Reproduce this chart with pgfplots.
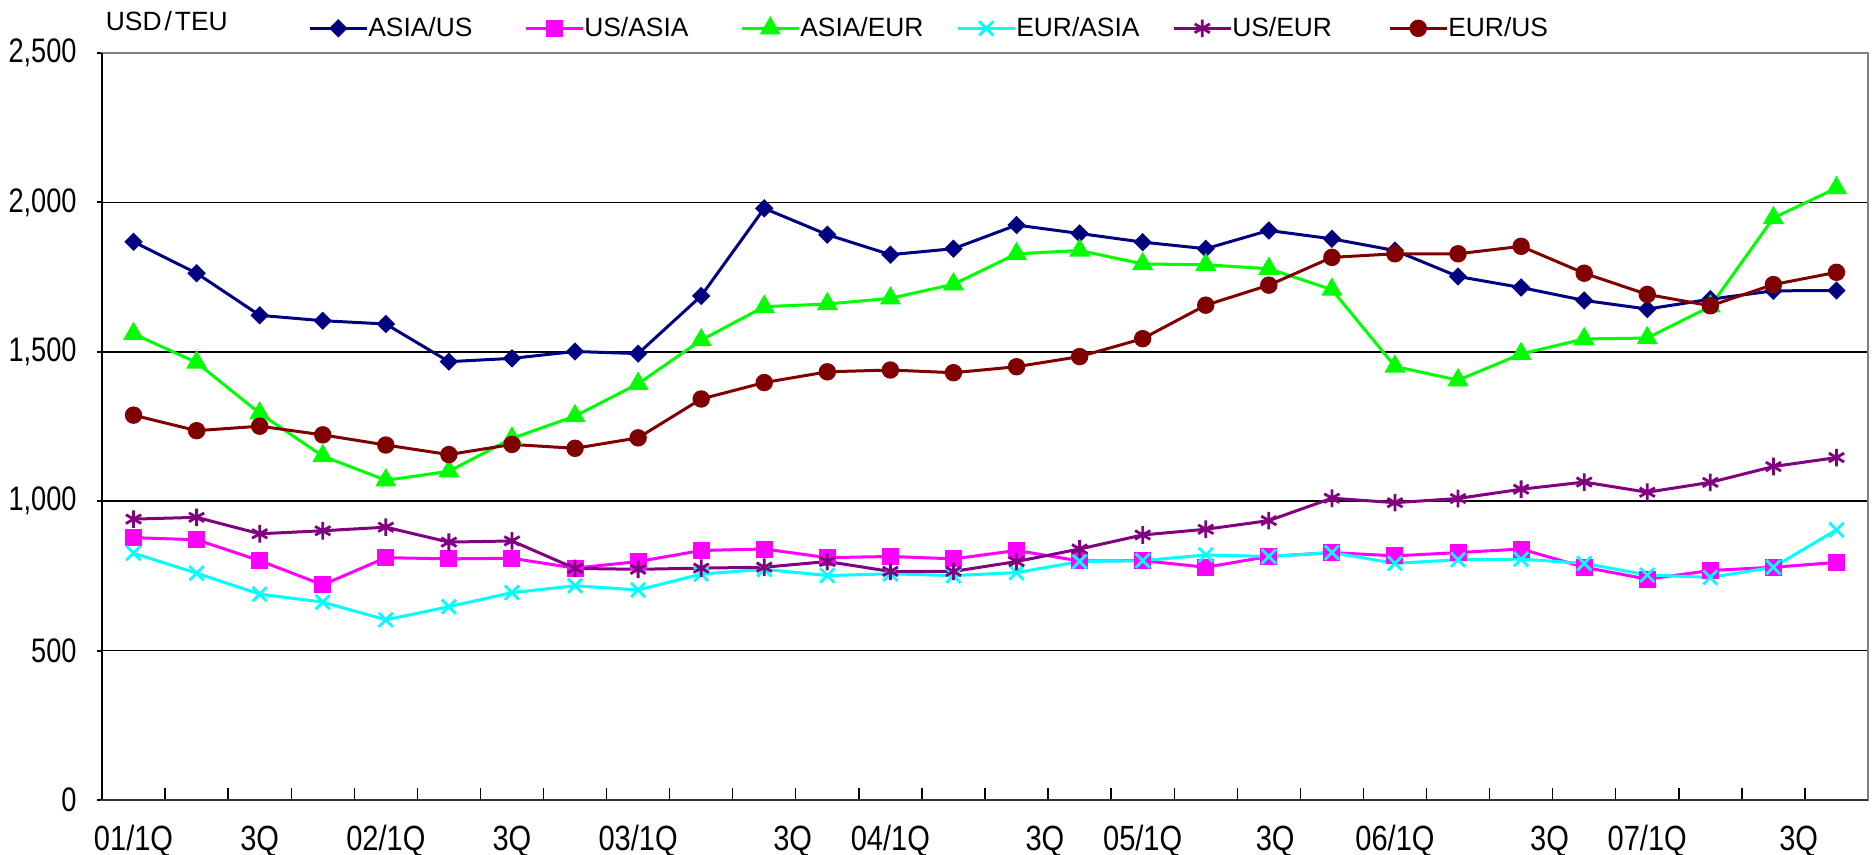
\documentclass[border=0pt]{standalone}
\usepackage{fontspec}
\setmainfont{Liberation Sans}
\newfontfamily\ytickfont{Liberation Sans}[FakeStretch=0.8]
\newfontfamily\xtickfont{Liberation Sans}[FakeStretch=0.83]
\usepackage{pgfplots}
\pgfplotsset{compat=1.18}
\definecolor{cNavy}{RGB}{0,0,128}
\definecolor{cMag}{RGB}{255,0,255}
\definecolor{cLime}{RGB}{0,255,0}
\definecolor{cCyan}{RGB}{0,255,255}
\definecolor{cPurp}{RGB}{128,0,128}
\definecolor{cMar}{RGB}{128,0,0}
\begin{document}
\begin{tikzpicture}
\useasboundingbox (-51pt,-27.5pt) rectangle (886pt,400pt);
\begin{axis}[
  at={(0pt,0pt)}, anchor=south west,
  scale only axis, width=883pt, height=373.5pt,
  xmin=-0.5, xmax=27.5, ymin=0, ymax=2500,
  clip=false,
  axis line style={draw=black!50, line width=1.4pt},
  ytick={0,500,...,2500},
  ymajorgrids, major grid style={black, line width=0.75pt},
  xtick={0,2,4,6,8,10.45,12,14.45,16,18.1,20,22.45,24,26.4},
  xticklabels={01/1Q,3Q,02/1Q,3Q,03/1Q,3Q,04/1Q,3Q,05/1Q,3Q,06/1Q,3Q,07/1Q,3Q},
  minor xtick={0.5,1.5,...,26.5},
  tick pos=left,
  tick align=outside,
  major tick length=2.5pt, minor tick length=6pt,
  major x tick style={draw=none},
  minor x tick style={black, line width=0.7pt, yshift=6pt},
  y tick style={black, line width=1pt},
  yticklabel style={font=\ytickfont\fontsize{17}{17}\selectfont, anchor=east, inner sep=0pt, xshift=-10pt},
  xticklabel style={font=\xtickfont\fontsize{17.5}{17.5}\selectfont, anchor=base, inner sep=0pt, yshift=-23pt},
  /pgf/number format/assume math mode=true,
  /pgf/number format/1000 sep={,},
  legend columns=6,
  legend cell align=left,
  legend style={at={(0.1166,1.033)}, anchor=west, draw=none, fill=none,
    inner sep=0pt, column sep=0pt, nodes={inner sep=0pt},
    font=\fontsize{13.2}{13.2}\selectfont,
    /tikz/every even column/.append style={column sep=3pt}},
  legend image code/.code={\draw[mark repeat=2,mark phase=2,#1] plot coordinates {(0pt,0pt) (14.25pt,0pt) (28.5pt,0pt)};},
]
\addplot[cNavy, line width=1.5pt, mark=square*, mark size=2.5pt, mark options={rotate=45}] coordinates {
(0,1868)(1,1763)(2,1622)(3,1604)(4,1593)(5,1467)(6,1478)(7,1501)(8,1494)(9,1687)
(10,1980)(11,1892)(12,1825)(13,1845)(14,1924)(15,1896)(16,1867)(17,1845)(18,1906)(19,1878)
(20,1839)(21,1752)(22,1715)(23,1672)(24,1643)(25,1676)(26,1704)(27,1705)};
\addlegendentry{\makebox[75pt][l]{ASIA/US}}
\addplot[cMag, line width=1.5pt, mark=square*, mark size=3.5pt] coordinates {
(0,878)(1,871)(2,801)(3,720)(4,811)(5,807)(6,809)(7,776)(8,798)(9,835)
(10,840)(11,811)(12,815)(13,807)(14,835)(15,800)(16,801)(17,779)(18,815)(19,828)
(20,817)(21,828)(22,840)(23,779)(24,739)(25,768)(26,779)(27,795)};
\addlegendentry{\makebox[75pt][l]{US/ASIA}}
\addplot[cLime, line width=1.5pt, mark=triangle*, mark size=4.6pt] coordinates {
(0,1560)(1,1464)(2,1294)(3,1151)(4,1070)(5,1100)(6,1210)(7,1285)(8,1393)(9,1539)
(10,1651)(11,1660)(12,1679)(13,1726)(14,1828)(15,1839)(16,1794)(17,1791)(18,1778)(19,1708)
(20,1451)(21,1405)(22,1493)(23,1543)(24,1546)(25,1652)(26,1948)(27,2048)};
\addlegendentry{\makebox[75pt][l]{ASIA/EUR}}
\addplot[cCyan, line width=1.5pt, mark=x, mark size=5pt, mark options={line width=1.4pt}] coordinates {
(0,826)(1,759)(2,689)(3,662)(4,603)(5,647)(6,694)(7,717)(8,703)(9,756)
(10,772)(11,751)(12,757)(13,751)(14,761)(15,798)(16,801)(17,820)(18,815)(19,828)
(20,792)(21,804)(22,806)(23,792)(24,753)(25,745)(26,779)(27,904)};
\addlegendentry{\makebox[75pt][l]{EUR/ASIA}}
\addplot[cPurp, line width=1.5pt, mark=asterisk, mark size=4.4pt, mark options={line width=1.4pt}] coordinates {
(0,940)(1,946)(2,891)(3,901)(4,913)(5,863)(6,867)(7,775)(8,772)(9,776)
(10,779)(11,798)(12,765)(13,765)(14,798)(15,840)(16,887)(17,906)(18,935)(19,1010)
(20,995)(21,1009)(22,1040)(23,1064)(24,1030)(25,1063)(26,1116)(27,1146)};
\addlegendentry{\makebox[75pt][l]{US/EUR}}
\addplot[cMar, line width=1.5pt, mark=*, mark size=3.6pt] coordinates {
(0,1288)(1,1236)(2,1251)(3,1222)(4,1188)(5,1156)(6,1190)(7,1177)(8,1212)(9,1342)
(10,1397)(11,1433)(12,1439)(13,1430)(14,1450)(15,1484)(16,1544)(17,1656)(18,1723)(19,1816)
(20,1828)(21,1828)(22,1853)(23,1763)(24,1692)(25,1654)(26,1725)(27,1766)};
\addlegendentry{\makebox[75pt][l]{EUR/US}}
\draw[black, line width=1.1pt] (rel axis cs:0,1) -- (rel axis cs:0,0);
\draw[black!80, line width=1.3pt] (rel axis cs:0,0) -- (rel axis cs:1,0);
\node[font=\fontsize{13.2}{13.2}\selectfont, anchor=west, inner sep=0pt] at (axis description cs:0.002,1.043) {USD{\kern1.5pt}/{\kern1.5pt}TEU};
\end{axis}
\end{tikzpicture}
\end{document}
